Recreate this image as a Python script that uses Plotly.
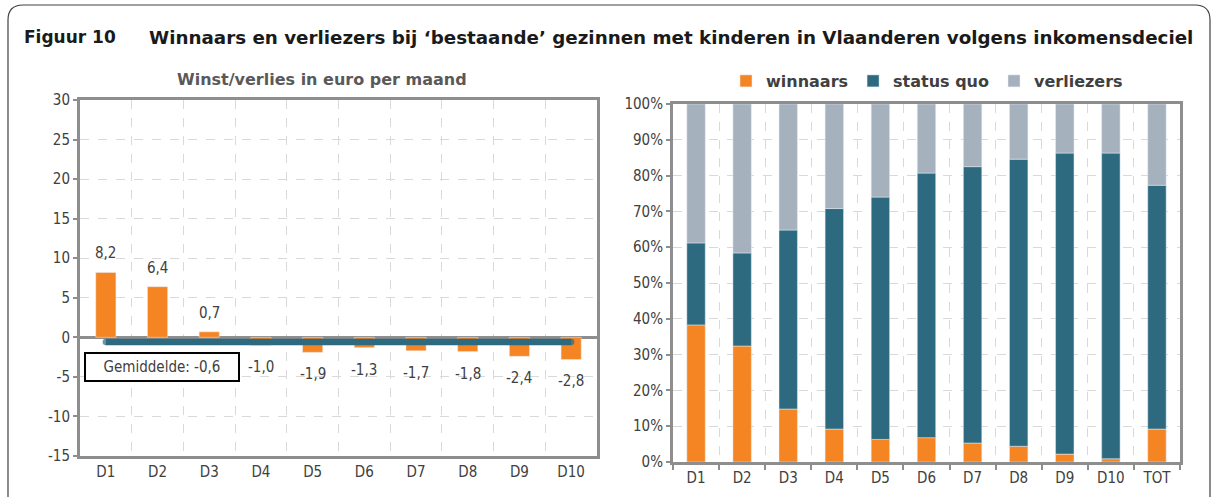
import plotly.graph_objects as go

# ---- data ----
deciles = ["D1", "D2", "D3", "D4", "D5", "D6", "D7", "D8", "D9", "D10"]
winst = [8.2, 6.4, 0.7, -1.0, -1.9, -1.3, -1.7, -1.8, -2.4, -2.8]
gemiddelde = -0.6
left_ticks = [30, 25, 20, 15, 10, 5, 0, -5, -10, -15]

cats_right = ["D1", "D2", "D3", "D4", "D5", "D6", "D7", "D8", "D9", "D10", "TOT"]
winnaars = [38.3, 32.4, 14.8, 9.2, 6.3, 6.8, 5.3, 4.4, 2.2, 0.9, 9.2]
status_quo = [22.9, 26.0, 50.0, 61.6, 67.7, 73.9, 77.2, 80.2, 84.1, 85.4, 68.1]
verliezers = [round(100 - w - s, 1) for w, s in zip(winnaars, status_quo)]

W, H = 1214, 497
ORANGE = "#F58523"
TEAL = "#2D6A80"
GREYBLUE = "#A6B1BE"
AXIS = "#8E8E8E"
GRID = "#D9D9D9"
TXT = "#404040"
FONT = "DejaVu Sans, sans-serif"
FONTC = "DejaVu Sans Condensed, DejaVu Sans, sans-serif"


def px(x):
    return x / W


def py(y):
    return 1 - y / H


fig = go.Figure()

fig.add_trace(go.Bar(x=deciles, y=winst, marker_color=ORANGE, width=0.39,
                     showlegend=False, xaxis="x", yaxis="y"))
# mean line (round end caps emulated with end markers)
cap_sizes = [6.5 if i in (0, len(deciles) - 1) else 0 for i in range(len(deciles))]
fig.add_trace(go.Scatter(x=deciles, y=[gemiddelde] * len(deciles), mode="lines+markers",
                         line=dict(color=TEAL, width=6.5),
                         marker=dict(color=TEAL, size=cap_sizes, line=dict(width=0)),
                         showlegend=False, xaxis="x", yaxis="y"))

fig.add_trace(go.Bar(x=cats_right, y=winnaars, name="winnaars", marker_color=ORANGE,
                     width=0.4, xaxis="x2", yaxis="y2"))
fig.add_trace(go.Bar(x=cats_right, y=status_quo, name="status quo", marker_color=TEAL,
                     width=0.4, xaxis="x2", yaxis="y2"))
fig.add_trace(go.Bar(x=cats_right, y=verliezers, name="verliezers", marker_color=GREYBLUE,
                     width=0.4, xaxis="x2", yaxis="y2"))

annotations = []
for d, v in zip(deciles, winst):
    annotations.append(dict(x=d, y=v, xref="x", yref="y",
                            text=f"{v:.1f}".replace(".", ","), showarrow=False,
                            yshift=19 if v > 0 else -22,
                            font=dict(size=15, color=TXT, family=FONTC)))

annotations += [
    dict(x=px(22), y=py(37), xref="paper", yref="paper", xanchor="left", yanchor="middle",
         text="<b>Figuur 10</b>", showarrow=False,
         font=dict(size=17, color="#1A1A1A", family=FONT)),
    dict(x=px(147), y=py(37), xref="paper", yref="paper", xanchor="left", yanchor="middle",
         text="<b>Winnaars en verliezers bij ‘bestaande’ gezinnen met kinderen in Vlaanderen volgens inkomensdeciel</b>",
         showarrow=False, font=dict(size=18.3, color="#1A1A1A", family=FONT)),
    dict(x=px(322), y=py(79), xref="paper", yref="paper", xanchor="center", yanchor="middle",
         text="<b>Winst/verlies in euro per maand</b>", showarrow=False,
         font=dict(size=16, color="#595959", family=FONT)),
    dict(x=px(162.5), y=py(367), xref="paper", yref="paper", xanchor="center", yanchor="middle",
         text="Gemiddelde: " + f"{gemiddelde:.1f}".replace(".", ","), showarrow=False,
         bordercolor="black", borderwidth=2, borderpad=3, bgcolor="white",
         width=146, height=20,
         font=dict(size=15, color=TXT, family=FONTC)),
]

axis_common = dict(showline=True, linecolor=AXIS, linewidth=3, mirror=True,
                   gridcolor=GRID, griddash="dash", gridwidth=1,
                   tickfont=dict(size=15, color=TXT, family=FONTC))

fig.update_layout(
    width=W, height=H,
    margin=dict(l=0, r=0, t=0, b=0, autoexpand=False),
    paper_bgcolor="white", plot_bgcolor="white",
    barmode="relative",
    font=dict(family=FONTC, color=TXT),
    xaxis=dict(domain=[px(80), px(597)], anchor="y", type="category",
               range=[-0.5, len(deciles) - 0.5],
               tickson="boundaries", ticks="", showgrid=True, **axis_common),
    yaxis=dict(domain=[py(456), py(100)], anchor="x", range=[-15, 30],
               tickvals=left_ticks, ticktext=[str(t) for t in left_ticks],
               ticks="outside", ticklen=4, tickcolor=AXIS, tickwidth=2,
               zeroline=True, zerolinecolor=AXIS, zerolinewidth=3, **axis_common),
    xaxis2=dict(domain=[px(673), px(1180)], anchor="y2", type="category",
                range=[-0.5, len(cats_right) - 0.5],
                tickson="boundaries", ticks="outside", ticklen=5, tickcolor=AXIS, tickwidth=2,
                showgrid=True, **axis_common),
    yaxis2=dict(domain=[py(462), py(104)], anchor="x2", range=[0, 100], dtick=10,
                ticksuffix="%", ticks="outside", ticklen=4, tickcolor=AXIS, tickwidth=2,
                **axis_common),
    legend=dict(orientation="h", x=px(927), y=py(81), xanchor="center", yanchor="middle",
                font=dict(size=16, color=TXT, family=FONT, weight="bold"),
                traceorder="normal", itemwidth=30, bgcolor="rgba(0,0,0,0)"),
    annotations=annotations,
    shapes=[dict(type="path", xref="paper", yref="paper",
                 path=f"M {px(8)},{py(520)} L {px(8)},{py(20)} Q {px(8)},{py(5)} {px(23)},{py(5)} "
                      f"L {px(1195)},{py(5)} Q {px(1210)},{py(5)} {px(1210)},{py(20)} L {px(1210)},{py(520)}",
                 line=dict(color="#404040", width=1.2), layer="below")],
)

fig.write_html("out.html", config={"displayModeBar": False},
               post_script="document.body.style.margin='0';document.body.style.overflow='hidden';")
